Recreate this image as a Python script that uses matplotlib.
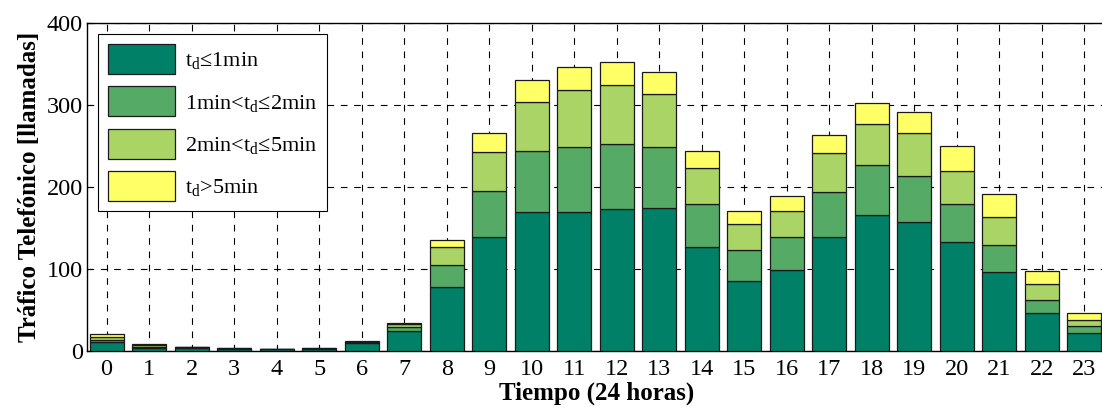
import numpy as np
import matplotlib
matplotlib.use('Agg')
import matplotlib.pyplot as plt

plt.rcParams['font.family'] = ['Liberation Serif', 'DejaVu Serif']
plt.rcParams['mathtext.fontset'] = 'custom'
plt.rcParams['mathtext.rm'] = 'Liberation Serif'
plt.rcParams['mathtext.it'] = 'Liberation Serif'

# Llamadas por hora, separadas por duración de la llamada
horas = np.arange(24)
dur_1min = [11.5, 3.5, 4, 2.5, 2, 2.5, 9.8, 24, 78, 138.5, 170, 170, 173, 175,
            126.5, 86, 98.5, 138.5, 166.5, 157, 132.5, 96, 46, 22]
dur_2min = [2.5, 2, 0.4, 0.5, 0.1, 0.5, 0.8, 5.5, 26.5, 56.5, 73.5, 79, 80, 74,
            52.5, 37, 40, 56, 60, 56, 46.5, 33, 16, 8]
dur_5min = [3, 1.5, 0.3, 0.5, 0.1, 0.5, 0.8, 4, 22, 48, 60, 69, 71, 65,
            44, 32, 32, 47, 51, 53, 40.5, 34, 20, 8]
dur_mas = [3.3, 1.5, 0.2, 0.5, 0.2, 0.5, 0.8, 1, 8.5, 22.5, 26.5, 28, 28, 26,
           20.5, 16, 18.5, 22, 24.5, 26, 30.5, 28.5, 16, 8]

series = [dur_1min, dur_2min, dur_5min, dur_mas]
etiquetas = [r'$\mathrm{t_d}$≤1min',
             r'1min<$\mathrm{t_d}$≤2min',
             r'2min<$\mathrm{t_d}$≤5min',
             r'$\mathrm{t_d}$>5min']
# colormap "summer"
colores = ['#008066', '#55AA66', '#AAD466', '#FFFF66']

fig = plt.figure(figsize=(11.02, 4.12), dpi=100)
ax = fig.add_axes([0.079, 0.148, 0.925, 0.796])

base = np.zeros(len(horas))
for vals, lab, col in zip(series, etiquetas, colores):
    ax.bar(horas, vals, width=0.8, bottom=base, color=col, edgecolor='#1a1a1a',
           linewidth=0.9, label=lab, zorder=3)
    base += np.array(vals)

ax.set_xlim(-0.46, 23.52)
ax.set_ylim(0, 400)
ax.set_xticks(horas)
ax.set_yticks([0, 100, 200, 300, 400])
ax.tick_params(direction='in', labelsize=17.5, length=4, width=0.8)
ax.tick_params(axis='x', pad=6)
ax.tick_params(axis='y', pad=3)
ax.grid(True, color='black', linestyle=(0, (6, 6)), linewidth=0.8, zorder=0)
ax.set_axisbelow(True)
for s in ax.spines.values():
    s.set_linewidth(1.0)

ax.set_xlabel('Tiempo (24 horas)', fontsize=18, fontweight='bold', labelpad=1)
ax.set_ylabel('Tráfico Telefónico [llamadas]', fontsize=18, fontweight='bold', labelpad=4)

leg = ax.legend(loc='upper left', bbox_to_anchor=(0.011, 0.966), fontsize=16,
                handlelength=3.0, handleheight=1.7, labelspacing=0.55,
                handletextpad=0.45, borderpad=0.45, borderaxespad=0,
                fancybox=False, framealpha=1, edgecolor='black')
leg.get_frame().set_linewidth(0.8)

fig.savefig('out.png', dpi=100)
